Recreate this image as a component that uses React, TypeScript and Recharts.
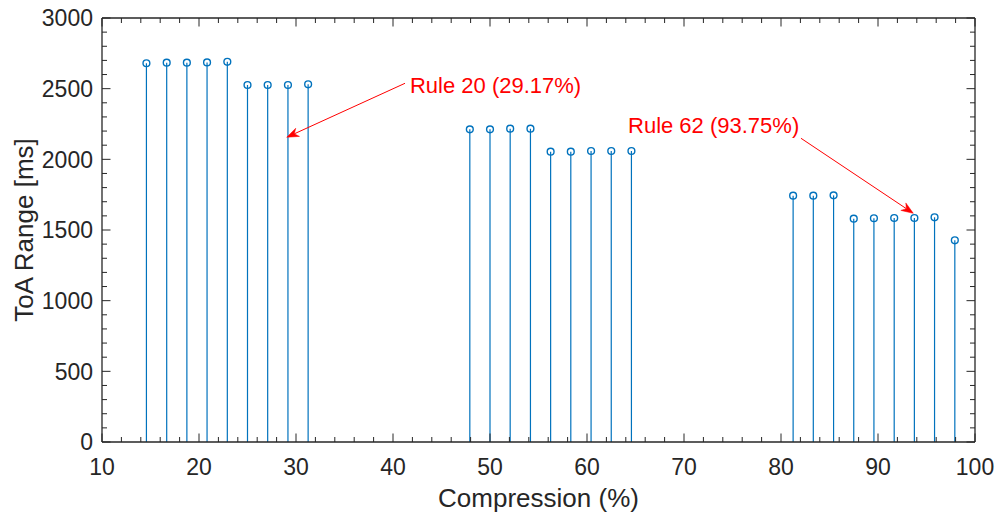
import React from 'react';
import { ComposedChart, Scatter, XAxis, YAxis, ErrorBar, ReferenceLine, ReferenceDot, Label } from 'recharts';

// ---- data ----
const compression = [14.58, 16.67, 18.75, 20.83, 22.92, 25.0, 27.08, 29.17, 31.25, 47.92, 50.0, 52.08, 54.17, 56.25, 58.33, 60.42, 62.5, 64.58, 81.25, 83.33, 85.42, 87.5, 89.58, 91.67, 93.75, 95.83, 97.92];
const toaRange = [2680, 2684, 2684, 2686, 2690, 2526, 2526, 2526, 2531, 2212, 2212, 2217, 2217, 2054, 2054, 2059, 2059, 2059, 1743, 1743, 1745, 1580, 1583, 1585, 1585, 1590, 1427];

const xTicks = [10, 12, 14, 16, 18, 20, 22, 24, 26, 28, 30, 32, 34, 36, 38, 40, 42, 44, 46, 48, 50, 52, 54, 56, 58, 60, 62, 64, 66, 68, 70, 72, 74, 76, 78, 80, 82, 84, 86, 88, 90, 92, 94, 96, 98, 100];
const xMajorStep = 10;
const yTicks = [0, 100, 200, 300, 400, 500, 600, 700, 800, 900, 1000, 1100, 1200, 1300, 1400, 1500, 1600, 1700, 1800, 1900, 2000, 2100, 2200, 2300, 2400, 2500, 2600, 2700, 2800, 2900, 3000];
const yMajorStep = 500;

const annotationText = ['Rule 20 (29.17%)', 'Rule 62 (93.75%)'];
const annotationTextX = [41.75, 64.23];
const annotationTextY = [2467, 2184];
const arrowFromX = [41.24, 82.06];
const arrowFromY = [2538, 2149];
const arrowToX = [29.04, 93.64];
const arrowToY = [2156, 1618];

const xLabel = 'Compression (%)';
const yLabel = 'ToA Range [ms]';

// ---- styles ----
const FONT = '"Liberation Sans", Arial, Helvetica, sans-serif';
const AXIS = '#262626';
const STEM = '#0072BD';
const RED = '#FF0000';
const MAJOR = 8.5;
const MINOR = 5;

const data = compression.map((c, i) => ({ x: c, y: toaRange[i], err: [toaRange[i], 0] }));

const BottomTick = (p: any) => {
  const { x, y, payload } = p;
  const v = payload.value;
  const major = Math.abs(v % xMajorStep) < 1e-9;
  return (
    <g>
      <line x1={x} x2={x} y1={y} y2={y - (major ? MAJOR : MINOR)} stroke={AXIS} strokeWidth={1} />
      {major && (
        <text x={x} y={y + 33} textAnchor="middle" fontFamily={FONT} fontSize={23} fill={AXIS}>
          {v}
        </text>
      )}
    </g>
  );
};

const TopTick = (p: any) => {
  const { x, y, payload } = p;
  const v = payload.value;
  const major = Math.abs(v % xMajorStep) < 1e-9;
  return <line x1={x} x2={x} y1={y} y2={y + (major ? MAJOR : MINOR)} stroke={AXIS} strokeWidth={1} />;
};

const LeftTick = (p: any) => {
  const { x, y, payload } = p;
  const v = payload.value;
  const major = Math.abs(v % yMajorStep) < 1e-9;
  return (
    <g>
      <line x1={x} x2={x + (major ? MAJOR : MINOR)} y1={y} y2={y} stroke={AXIS} strokeWidth={1} />
      {major && (
        <text x={x - 9} y={y + 8.3} textAnchor="end" fontFamily={FONT} fontSize={23} fill={AXIS}>
          {v}
        </text>
      )}
    </g>
  );
};

const RightTick = (p: any) => {
  const { x, y, payload } = p;
  const v = payload.value;
  const major = Math.abs(v % yMajorStep) < 1e-9;
  return <line x1={x} x2={x - (major ? MAJOR : MINOR)} y1={y} y2={y} stroke={AXIS} strokeWidth={1} />;
};

const StemHead = (p: any) => {
  const { cx, cy } = p;
  return <circle cx={cx} cy={cy} r={3.4} fill="none" stroke={STEM} strokeWidth={1.4} />;
};

const NoShape = () => <g />;

const Arrow = (p: any) => {
  const { x1, y1, x2, y2 } = p;
  const dx = x2 - x1;
  const dy = y2 - y1;
  const len = Math.hypot(dx, dy) || 1;
  const ux = dx / len;
  const uy = dy / len;
  const nx = -uy;
  const ny = ux;
  const L = 12;
  const W = 4.5;
  const bx = x2 - L * ux;
  const by = y2 - L * uy;
  const mx = x2 - 0.7 * L * ux;
  const my = y2 - 0.7 * L * uy;
  const pts = `${x2},${y2} ${bx + W * nx},${by + W * ny} ${mx},${my} ${bx - W * nx},${by - W * ny}`;
  return (
    <g>
      <line x1={x1} y1={y1} x2={mx} y2={my} stroke={RED} strokeWidth={1} />
      <polygon points={pts} fill={RED} stroke={RED} strokeWidth={0.5} />
    </g>
  );
};

const makeTextShape = (txt: string) => (p: any) => (
  <text x={p.cx} y={p.cy} textAnchor="start" fontFamily={FONT} fontSize={22} fill={RED}>
    {txt}
  </text>
);

const XTitle = (p: any) => {
  const vb = p.viewBox || {};
  return (
    <text x={vb.x + vb.width / 2} y={vb.y + 64.7} textAnchor="middle" fontFamily={FONT} fontSize={26} fill={AXIS}>
      {xLabel}
    </text>
  );
};

const YTitle = (p: any) => {
  const vb = p.viewBox || {};
  const cx = 33;
  const cy = vb.y + vb.height / 2;
  return (
    <text x={cx} y={cy} transform={`rotate(-90, ${cx}, ${cy})`} textAnchor="middle" fontFamily={FONT} fontSize={26} fill={AXIS}>
      {yLabel}
    </text>
  );
};

export default function App() {
  return (
    <div style={{ position: 'absolute', left: 0, top: 0, width: 998, height: 514, background: '#fff' }}>
      <ComposedChart width={998} height={514} data={data} margin={{ top: 17, right: 22, bottom: 0, left: 0 }}>
        <XAxis
          xAxisId="b"
          dataKey="x"
          type="number"
          domain={[10, 100]}
          allowDataOverflow
          ticks={xTicks}
          interval={0}
          orientation="bottom"
          height={72}
          tickSize={0}
          tickMargin={0}
          tickLine={false}
          tick={BottomTick}
          axisLine={{ stroke: AXIS, strokeWidth: 1.3 }}
        >
          <Label content={XTitle} />
        </XAxis>
        <XAxis
          xAxisId="t"
          dataKey="x"
          type="number"
          domain={[10, 100]}
          allowDataOverflow
          ticks={xTicks}
          interval={0}
          orientation="top"
          height={1}
          tickSize={0}
          tickMargin={0}
          tickLine={false}
          tick={TopTick}
          axisLine={{ stroke: AXIS, strokeWidth: 1.3 }}
        />
        <YAxis
          yAxisId="l"
          dataKey="y"
          type="number"
          domain={[0, 3000]}
          allowDataOverflow
          ticks={yTicks}
          interval={0}
          orientation="left"
          width={102}
          tickSize={0}
          tickMargin={0}
          tickLine={false}
          tick={LeftTick}
          axisLine={{ stroke: AXIS, strokeWidth: 1.3 }}
        >
          <Label content={YTitle} />
        </YAxis>
        <YAxis
          yAxisId="r"
          dataKey="y"
          type="number"
          domain={[0, 3000]}
          allowDataOverflow
          ticks={yTicks}
          interval={0}
          orientation="right"
          width={1}
          tickSize={0}
          tickMargin={0}
          tickLine={false}
          tick={RightTick}
          axisLine={{ stroke: AXIS, strokeWidth: 1.3 }}
        />
        <Scatter xAxisId="t" yAxisId="r" dataKey="y" data={data} shape={NoShape} isAnimationActive={false} />
        <Scatter xAxisId="b" yAxisId="l" dataKey="y" data={data} shape={StemHead} isAnimationActive={false}>
          <ErrorBar dataKey="err" direction="y" width={0} stroke={STEM} strokeWidth={1.2} isAnimationActive={false} />
        </Scatter>
        {annotationText.map((t, i) => (
          <ReferenceLine
            key={`a${i}`}
            xAxisId="b"
            yAxisId="l"
            segment={[
              { x: arrowFromX[i], y: arrowFromY[i] },
              { x: arrowToX[i], y: arrowToY[i] },
            ]}
            shape={Arrow}
            ifOverflow="visible"
          />
        ))}
        {annotationText.map((t, i) => (
          <ReferenceDot
            key={`t${i}`}
            xAxisId="b"
            yAxisId="l"
            x={annotationTextX[i]}
            y={annotationTextY[i]}
            r={0}
            shape={makeTextShape(t)}
            ifOverflow="visible"
          />
        ))}
      </ComposedChart>
    </div>
  );
}
